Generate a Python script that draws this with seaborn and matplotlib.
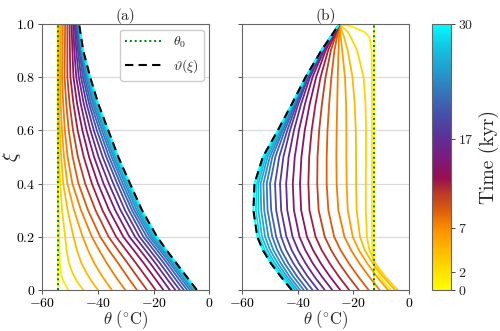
import numpy as np
import pandas as pd
import seaborn as sns
import matplotlib
matplotlib.use('Agg')
import matplotlib.pyplot as plt
from matplotlib.colors import LinearSegmentedColormap, Normalize
from matplotlib.cm import ScalarMappable
from matplotlib.lines import Line2D

# time of each profile (kyr)
times = [0, 1.5, 3, 4.5, 6, 7.5, 9, 10.5, 12, 13.5, 15, 16.5, 18, 19.5, 21, 22.5, 24, 25.5, 27, 28.5, 30]

# panel (a): depth coordinate and temperature profiles (deg C), one row per time
xi_a = [0, 0.03, 0.06, 0.1, 0.15, 0.2, 0.3, 0.4, 0.5, 0.6, 0.7, 0.8, 0.9, 1.0]
theta_a = [
    [-54.5, -54.5, -54.5, -54.5, -54.5, -54.5, -54.5, -54.5, -54.5, -54.5, -54.5, -54.5, -54.5, -54.5],
    [-50.6, -52.3, -53.3, -53.7, -53.85, -53.9, -54.15, -54.3, -54.4, -54.45, -54.5, -54.5, -54.5, -54.5],
    [-45.3, -47.4, -49.0, -50.4, -51.3, -51.8, -52.9, -53.6, -53.95, -54.2, -54.33, -54.4, -54.35, -54.3],
    [-40.0, -42.1, -43.9, -45.9, -47.6, -48.8, -50.9, -52.5, -53.2, -53.7, -54.0, -54.1, -54.0, -53.9],
    [-35.0, -37.1, -39.0, -41.3, -43.6, -45.5, -48.6, -51.0, -52.2, -52.95, -53.4, -53.6, -53.45, -53.3],
    [-30.2, -32.3, -34.3, -36.8, -39.6, -42.2, -46.1, -49.2, -50.9, -51.9, -52.5, -52.9, -52.75, -52.6],
    [-26.0, -28.1, -30.1, -32.7, -36.1, -39.2, -43.6, -47.0, -49.1, -50.5, -51.4, -52.0, -51.9, -51.8],
    [-22.4, -24.5, -26.6, -29.3, -32.8, -36.2, -40.9, -44.6, -47.2, -48.95, -50.2, -51.0, -51.0, -51.0],
    [-19.3, -21.4, -23.5, -26.3, -29.9, -33.5, -38.4, -42.2, -45.1, -47.3, -48.8, -49.9, -50.1, -50.2],
    [-16.5, -18.6, -20.7, -23.5, -27.2, -30.9, -36.0, -40.0, -43.2, -45.6, -47.5, -48.8, -49.2, -49.5],
    [-14.2, -16.3, -18.4, -21.2, -24.9, -28.7, -33.8, -38.0, -41.4, -44.1, -46.2, -47.8, -48.5, -48.9],
    [-12.2, -14.4, -16.5, -19.3, -23.0, -26.7, -31.9, -36.1, -39.8, -42.7, -45.1, -46.9, -47.8, -48.4],
    [-10.6, -12.8, -14.9, -17.7, -21.4, -25.1, -30.3, -34.5, -38.3, -41.5, -44.1, -46.1, -47.2, -48.0],
    [-9.2, -11.4, -13.5, -16.3, -20.0, -23.7, -28.9, -33.1, -37.0, -40.4, -43.2, -45.4, -46.7, -47.7],
    [-8.0, -10.2, -12.3, -15.1, -18.8, -22.5, -27.8, -32.0, -36.0, -39.4, -42.5, -44.8, -46.3, -47.4],
    [-7.0, -9.2, -11.3, -14.1, -17.8, -21.5, -26.9, -31.1, -35.1, -38.6, -41.8, -44.3, -46.0, -47.2],
    [-6.2, -8.4, -10.5, -13.3, -17.0, -20.7, -26.1, -30.3, -34.4, -37.9, -41.3, -43.9, -45.8, -47.05],
    [-5.6, -7.8, -9.9, -12.7, -16.4, -20.1, -25.4, -29.7, -33.8, -37.3, -40.8, -43.5, -45.6, -46.95],
    [-5.1, -7.3, -9.4, -12.2, -15.9, -19.6, -24.9, -29.2, -33.3, -36.9, -40.4, -43.2, -45.5, -46.9],
    [-4.8, -7.0, -9.1, -11.9, -15.5, -19.2, -24.5, -28.8, -33.0, -36.6, -40.1, -43.0, -45.4, -46.85],
    [-4.5, -6.7, -8.9, -11.8, -15.4, -18.8, -24.2, -28.5, -32.7, -36.3, -39.9, -42.8, -45.3, -46.8],
]
steady_a = [-4.5, -6.7, -8.9, -11.8, -15.4, -18.8, -24.2, -28.5, -32.7, -36.3, -39.9, -42.8, -45.3, -46.8]
theta0_a = -54.5

# panel (b)
xi_b = [0, 0.05, 0.1, 0.15, 0.2, 0.3, 0.4, 0.5, 0.6, 0.7, 0.8, 0.9, 0.95, 0.97, 0.99, 1.0]
theta_b = [
    [-12.7, -12.7, -12.7, -12.7, -12.7, -12.7, -12.7, -12.7, -12.7, -12.7, -12.7, -12.7, -12.7, -12.7, -12.7, -12.7],
    [-6.5, -10.5, -12.7, -13.2, -13.3, -13.3, -13.3, -13.3, -13.3, -13.3, -13.3, -13.4, -14.2, -16.0, -20.5, -25.0],
    [-4.0, -8.5, -12.0, -14.2, -15.1, -15.5, -15.5, -15.4, -15.4, -15.6, -16.3, -18.6, -20.9, -22.0, -24.0, -25.0],
    [-5.0, -9.3, -13.0, -15.9, -17.6, -18.8, -19.0, -19.0, -19.1, -19.5, -20.3, -22.0, -23.3, -24.0, -24.6, -25.0],
    [-7.5, -11.5, -15.0, -18.0, -20.2, -22.0, -22.4, -22.5, -22.5, -22.6, -23.0, -24.0, -24.5, -24.7, -24.9, -25.0],
    [-10.5, -14.3, -17.8, -20.8, -23.2, -25.4, -26.0, -26.1, -26.0, -25.8, -25.6, -25.3, -25.15, -25.1, -25.03, -25.0],
    [-14.5, -18.2, -21.6, -24.6, -26.9, -29.0, -29.6, -29.6, -29.3, -28.7, -27.9, -26.8, -25.9, -25.55, -25.2, -25.0],
    [-18.0, -21.7, -25.1, -28.0, -30.3, -32.5, -33.0, -32.9, -32.3, -31.3, -30.0, -28.1, -26.55, -25.9, -25.3, -25.0],
    [-21.5, -25.2, -28.5, -31.4, -33.6, -35.8, -36.2, -35.9, -35.0, -33.6, -31.8, -29.1, -27.05, -26.2, -25.4, -25.0],
    [-24.7, -28.4, -31.7, -34.5, -36.7, -38.8, -39.2, -38.7, -37.5, -35.7, -33.4, -30.0, -27.5, -26.5, -25.5, -25.0],
    [-27.6, -31.3, -34.6, -37.3, -39.4, -41.4, -41.8, -41.1, -39.6, -37.4, -34.7, -30.6, -27.8, -26.7, -25.55, -25.0],
    [-30.3, -34.0, -37.2, -39.9, -41.9, -43.8, -44.2, -43.3, -41.4, -38.8, -35.6, -31.0, -28.0, -26.8, -25.6, -25.0],
    [-32.7, -36.4, -39.6, -42.2, -44.1, -46.0, -46.4, -45.2, -42.8, -39.8, -36.2, -31.2, -28.1, -26.9, -25.6, -25.0],
    [-34.7, -38.4, -41.6, -44.2, -46.0, -47.8, -48.2, -46.7, -43.8, -40.4, -36.6, -31.3, -28.15, -26.9, -25.6, -25.0],
    [-36.5, -40.2, -43.4, -46.0, -47.8, -49.6, -50.0, -48.1, -44.7, -40.9, -36.8, -31.4, -28.2, -26.9, -25.65, -25.0],
    [-37.9, -41.6, -44.8, -47.4, -49.2, -50.9, -51.2, -49.2, -45.4, -41.2, -36.9, -31.45, -28.2, -26.9, -25.65, -25.0],
    [-39.2, -42.9, -46.1, -48.8, -50.6, -52.1, -52.4, -50.1, -45.9, -41.5, -37.0, -31.45, -28.2, -26.9, -25.65, -25.0],
    [-40.2, -43.9, -47.2, -50.0, -51.8, -53.2, -53.4, -50.9, -46.4, -41.7, -37.05, -31.5, -28.25, -26.95, -25.65, -25.0],
    [-41.0, -44.8, -48.2, -51.0, -52.9, -54.2, -54.2, -51.6, -46.7, -41.9, -37.1, -31.5, -28.25, -26.95, -25.65, -25.0],
    [-41.7, -45.5, -49.0, -51.9, -53.8, -55.1, -54.8, -52.1, -47.0, -42.0, -37.15, -31.5, -28.25, -26.95, -25.65, -25.0],
    [-42.2, -46.1, -49.7, -52.6, -54.6, -56.0, -55.6, -52.6, -47.2, -42.1, -37.2, -31.5, -28.25, -26.95, -25.65, -25.0],
]
steady_b = [-42.2, -46.1, -49.7, -52.6, -54.6, -56.0, -55.6, -52.6, -47.2, -42.1, -37.2, -31.5, -28.25, -26.95, -25.65, -25.0]
theta0_b = -12.7

cbar_ticks = [0, 2, 7, 17, 30]
ytick_vals = [0, 0.2, 0.4, 0.6, 0.8, 1.0]
ytick_labels = ['0', '0.2', '0.4', '0.6', '0.8', '1.0']
xtick_vals = [-60, -40, -20, 0]
xtick_labels = ['-60', '-40', '-20', '0']

# yellow -> orange -> red -> purple -> blue -> cyan
cmap = LinearSegmentedColormap.from_list('time', [
    (0.0, '#ffff00'), (0.12, '#ffc800'), (0.22, '#ff9400'), (0.30, '#dc5c0c'),
    (0.36, '#bb3b26'), (0.42, '#980f4e'), (0.50, '#7a1a80'), (0.58, '#5a3298'),
    (0.66, '#4550aa'), (0.75, '#3478bc'), (0.85, '#1ea6d4'), (0.93, '#10cde6'),
    (1.0, '#00ffff')])
norm = Normalize(0, 30)

sns.set_style('ticks')
plt.rcParams['font.family'] = ['cmr10', 'DejaVu Serif']
plt.rcParams['mathtext.fontset'] = 'cm'
plt.rcParams['axes.formatter.use_mathtext'] = True


def long_table(xi, table):
    rows = []
    for t, vals in zip(times, table):
        for x, v in zip(xi, vals):
            rows.append({'t': t, 'xi': x, 'theta': v})
    return pd.DataFrame(rows)


df_a = long_table(xi_a, theta_a)
df_b = long_table(xi_b, theta_b)

fig = plt.figure(figsize=(5, 3.31), dpi=100)
ax_a = fig.add_axes([0.0846, 0.124, 0.334, 0.8036])
ax_b = fig.add_axes([0.4846, 0.124, 0.333, 0.8036])
cax = fig.add_axes([0.8646, 0.124, 0.0368, 0.8036])

for ax, df, xi, steady, th0, title in [(ax_a, df_a, xi_a, steady_a, theta0_a, '(a)'),
                                       (ax_b, df_b, xi_b, steady_b, theta0_b, '(b)')]:
    sns.lineplot(data=df, x='theta', y='xi', hue='t', units='t', estimator=None,
                 sort=False, palette=cmap, hue_norm=norm, legend=False,
                 linewidth=1.3, ax=ax)
    ax.axvline(th0, color='green', ls=(0, (1, 1.5)), lw=1.4, zorder=5)
    sns.lineplot(x=steady, y=xi, sort=False, estimator=None, color='black',
                 ls=(0, (4, 2.5)), lw=1.5, ax=ax, zorder=6)
    ax.set_xlim(-60, 0)
    ax.set_ylim(0, 1)
    ax.set_xticks(xtick_vals)
    ax.set_xticklabels(['$' + s + '$' for s in xtick_labels], fontsize=10)
    ax.set_yticks(ytick_vals)
    ax.grid(axis='y', color='#d9d9d9', lw=0.8)
    ax.set_axisbelow(True)
    ax.set_title(title, fontsize=11, pad=3)
    ax.set_xlabel(r'$\theta\ (^{\circ}\mathrm{C})$', fontsize=12, labelpad=-1)
    ax.set_ylabel('')
    for sp in ax.spines.values():
        sp.set_color('#666666')
        sp.set_linewidth(0.8)
    ax.tick_params(colors='#333333', labelcolor='black', length=3, width=0.6, pad=2)

ax_a.set_yticklabels(['$' + s + '$' for s in ytick_labels], fontsize=10)
ax_b.set_yticklabels([])
ax_a.set_ylabel(r'$\xi$', fontsize=14)
ax_a.yaxis.set_label_coords(-0.115, 0.5)

handles = [Line2D([], [], color='green', ls=(0, (1, 1.5)), lw=1.4),
           Line2D([], [], color='black', ls=(0, (4, 2.5)), lw=1.5)]
ax_a.legend(handles, [r'$\theta_0$', r'$\vartheta(\xi)$'], loc='upper right',
            fontsize=10, handlelength=2.6, borderaxespad=0.4, framealpha=1)

cb = fig.colorbar(ScalarMappable(norm=norm, cmap=cmap), cax=cax, ticks=cbar_ticks)
cb.ax.set_yticklabels(['$%d$' % v for v in cbar_ticks], fontsize=10)
cb.outline.set_edgecolor('#666666')
cb.outline.set_linewidth(0.8)
cb.ax.tick_params(length=3, width=0.6, pad=2)
cb.set_label('Time (kyr)', fontsize=14, labelpad=4)

fig.savefig('out.png', dpi=100)
